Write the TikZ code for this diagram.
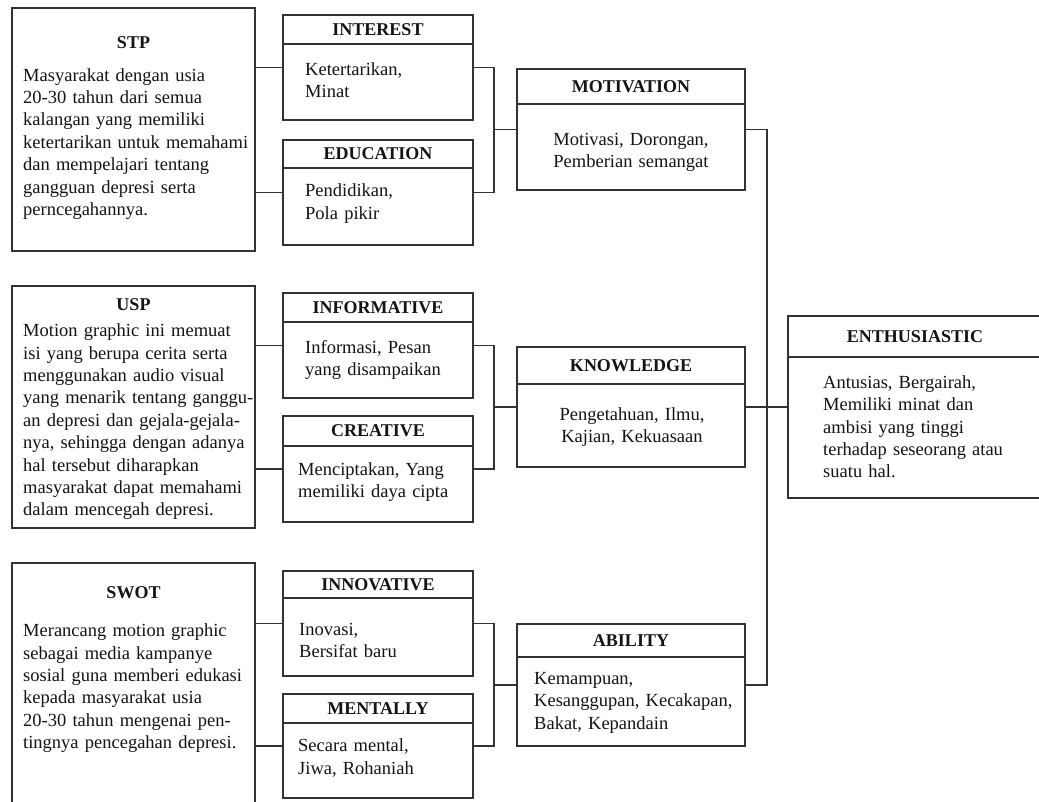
\documentclass[tikz,border=0pt]{standalone}
\usepackage{fontspec}
\setmainfont{Liberation Serif}

\definecolor{linegray}{gray}{0.2}
\definecolor{inkgray}{gray}{0.08}

\tikzset{
  boxline/.style={draw=linegray, line width=1.6pt, inner sep=0pt, outer sep=0pt},
  catbox/.style={boxline, anchor=north west},
  cathead/.style={boxline, anchor=north, text=inkgray, font=\bfseries\fontsize{18}{22}\selectfont},
  cattitle/.style={anchor=base, inner sep=0pt, text=inkgray, font=\bfseries\fontsize{18}{22}\selectfont},
  catbody/.style={anchor=base west, inner sep=0pt, align=left, text=inkgray, font=\fontsize{18.5}{22.4}\selectfont},
  catmid/.style={catbody, anchor=base, align=center},
  link/.style={draw=linegray, line width=1.6pt},
}

\begin{document}
\begin{tikzpicture}[x=1pt,y=-1pt]
  \useasboundingbox (0,0) rectangle (1039,801);
  \clip (0,0) rectangle (1039,801);
  \fill[white] (0,0) rectangle (1039,801);

  % left column
  \node[catbox, minimum width=243, minimum height=243] (stp) at (12,8) {};
  \node[cattitle] (stpT) at (133.5,48) {STP};
  \node[catbody, text width=260] (stpB) at (23,81) {Masyarakat dengan usia\\ 20-30 tahun dari semua\\ kalangan yang memiliki\\ ketertarikan untuk memahami\\ dan mempelajari tentang\\ gangguan depresi serta\\ perncegahannya.};

  \node[catbox, minimum width=243, minimum height=242] (usp) at (12,286) {};
  \node[cattitle] (uspT) at (133.5,310) {USP};
  \node[catbody, text width=260] (uspB) at (23,336.7) {Motion graphic ini memuat\\ isi yang berupa cerita serta\\ menggunakan audio visual\\ yang menarik tentang ganggu-\\ an depresi dan gejala-gejala-\\ nya, sehingga dengan adanya\\ hal tersebut diharapkan\\ masyarakat dapat memahami\\ dalam mencegah depresi.};

  \node[catbox, minimum width=243, minimum height=250] (swot) at (12,563) {};
  \node[cattitle] (swotT) at (133.5,598) {SWOT};
  \node[catbody, text width=260] (swotB) at (23,636.7) {Merancang motion graphic\\ sebagai media kampanye\\ sosial guna memberi edukasi\\ kepada masyarakat usia\\ 20-30 tahun mengenai pen-\\ tingnya pencegahan depresi.};

  % second column
  \node[catbox, minimum width=190, minimum height=105] (interest) at (283,15) {};
  \node[cathead, minimum width=190, minimum height=29] (interestT) at (interest.north) {INTEREST};
  \node[catbody, text width=180] (interestB) at (305,75) {Ketertarikan,\\ Minat};

  \node[catbox, minimum width=190, minimum height=105] (education) at (283,140) {};
  \node[cathead, minimum width=190, minimum height=28] (educationT) at (education.north) {EDUCATION};
  \node[catbody, text width=180] (educationB) at (305,196.7) {Pendidikan,\\ Pola pikir};

  \node[catbox, minimum width=190, minimum height=105] (informative) at (283,293) {};
  \node[cathead, minimum width=190, minimum height=29] (informativeT) at (informative.north) {INFORMATIVE};
  \node[catbody, text width=180] (informativeB) at (305,353.3) {Informasi, Pesan\\ yang disampaikan};

  \node[catbox, minimum width=190, minimum height=106] (creative) at (283,416) {};
  \node[cathead, minimum width=190, minimum height=30] (creativeT) at (creative.north) {CREATIVE};
  \node[catbody, text width=180] (creativeB) at (298,475) {Menciptakan, Yang\\ memiliki daya cipta};

  \node[catbox, minimum width=190, minimum height=105] (innovative) at (283,571) {};
  \node[cathead, minimum width=190, minimum height=27] (innovativeT) at (innovative.north) {INNOVATIVE};
  \node[catbody, text width=180] (innovativeB) at (299,635) {Inovasi,\\ Bersifat baru};

  \node[catbox, minimum width=190, minimum height=104] (mentally) at (283,694) {};
  \node[cathead, minimum width=190, minimum height=29] (mentallyT) at (mentally.north) {MENTALLY};
  \node[catbody, text width=180] (mentallyB) at (298,751.7) {Secara mental,\\ Jiwa, Rohaniah};

  % third column
  \node[catbox, minimum width=228, minimum height=121] (motivation) at (517,69) {};
  \node[cathead, minimum width=228, minimum height=35] (motivationT) at (motivation.north) {MOTIVATION};
  \node[catmid, text width=220] (motivationB) at (631,145) {Motivasi, Dorongan,\\ Pemberian semangat};

  \node[catbox, minimum width=228, minimum height=120] (knowledge) at (517,347) {};
  \node[cathead, minimum width=228, minimum height=37] (knowledgeT) at (knowledge.north) {KNOWLEDGE};
  \node[catmid, text width=220] (knowledgeB) at (632,420) {Pengetahuan, Ilmu,\\ Kajian, Kekuasaan};

  \node[catbox, minimum width=228, minimum height=122] (ability) at (517,624) {};
  \node[cathead, minimum width=228, minimum height=33] (abilityT) at (ability.north) {ABILITY};
  \node[catbody, text width=220] (abilityB) at (534,684.3) {Kemampuan,\\ Kesanggupan, Kecakapan,\\ Bakat, Kepandain};

  % result
  \node[catbox, minimum width=254, minimum height=182] (enthus) at (788,316) {};
  \node[cathead, minimum width=254, minimum height=41] (enthusT) at (enthus.north) {ENTHUSIASTIC};
  \node[catbody, text width=215] (enthusB) at (823,388.3) {Antusias, Bergairah,\\ Memiliki minat dan\\ ambisi yang tinggi\\ terhadap seseorang atau\\ suatu hal.};

  % connectors
  \coordinate (spineS) at (494,0 |- motivation.west);
  \coordinate (spineU) at (494,0 |- knowledge.west);
  \coordinate (spineW) at (494,0 |- ability.west);
  \coordinate (spineR) at (767,0 |- knowledge.east);

  \draw[link] (interest.west -| stp.east) -- (interest.west);
  \draw[link] (education.west -| stp.east) -- (education.west);
  \draw[link] (informative.west -| usp.east) -- (informative.west);
  \draw[link] (creative.west -| usp.east) -- (creative.west);
  \draw[link] (innovative.west -| swot.east) -- (innovative.west);
  \draw[link] (mentally.west -| swot.east) -- (mentally.west);

  \draw[link] (interest.east) -| (spineS) |- (education.east);
  \draw[link] (spineS) -- (motivation.west);
  \draw[link] (informative.east) -| (spineU) |- (creative.east);
  \draw[link] (spineU) -- (knowledge.west);
  \draw[link] (innovative.east) -| (spineW) |- (mentally.east);
  \draw[link] (spineW) -- (ability.west);

  \draw[link] (motivation.east) -| (spineR) |- (ability.east);
  \draw[link] (knowledge.east) -- (enthus.west);
\end{tikzpicture}
\end{document}
